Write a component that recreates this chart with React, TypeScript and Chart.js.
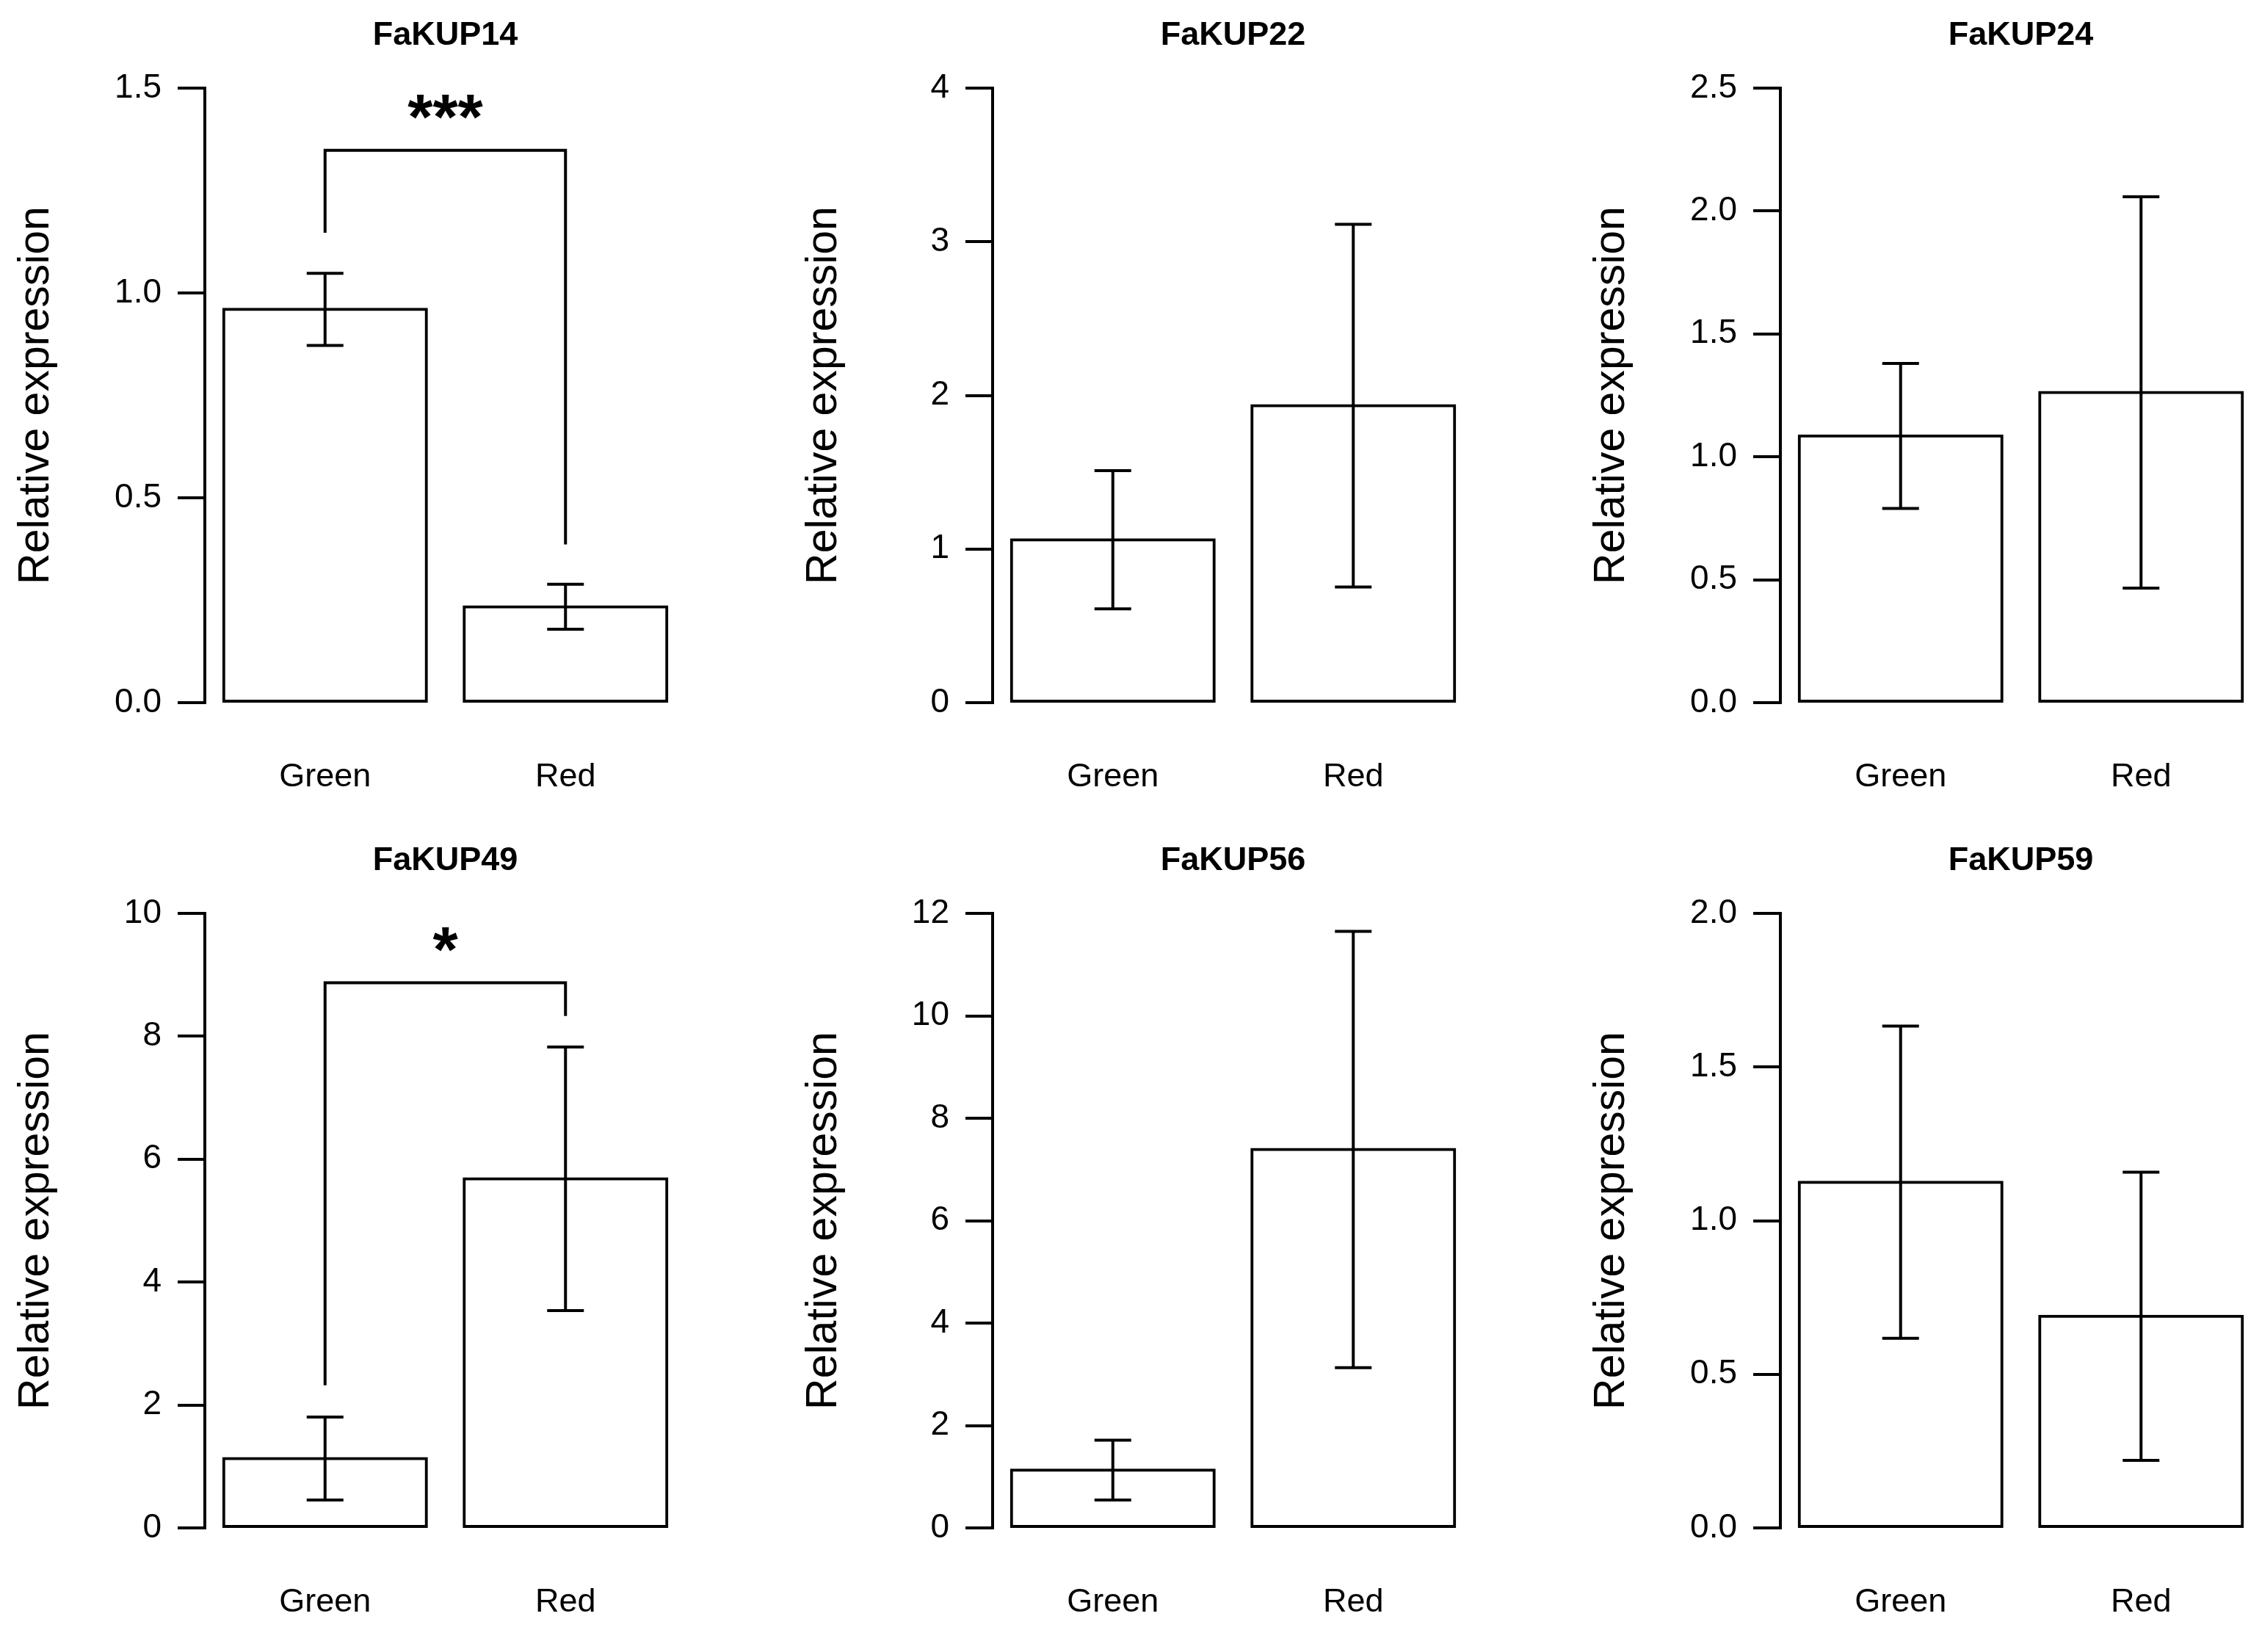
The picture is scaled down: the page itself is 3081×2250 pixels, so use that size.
import { useEffect, useRef } from 'react';
import { Chart, registerables } from 'chart.js';
import type { Plugin } from 'chart.js';

Chart.register(...registerables);

// one panel per gene
const genes = ['FaKUP14', 'FaKUP22', 'FaKUP24', 'FaKUP49', 'FaKUP56', 'FaKUP59'];
const categories = ['Green', 'Red'];
const greenMean = [0.96, 1.06, 1.085, 1.13, 1.13, 1.125];
const greenErr = [0.088, 0.45, 0.295, 0.675, 0.585, 0.508];
const redMean = [0.234, 1.933, 1.262, 5.68, 7.39, 0.689];
const redErr = [0.055, 1.18, 0.796, 2.145, 4.26, 0.469];
const yMax = [1.5, 4, 2.5, 10, 12, 2.0];
const yStep = [0.5, 1, 0.5, 2, 2, 0.5];
const yDecimals = [1, 0, 1, 0, 0, 1];

// significance brackets
const bracketGene = ['FaKUP14', 'FaKUP49'];
const bracketTop = [1.348, 8.87];
const bracketGreenEnd = [1.147, 2.32];
const bracketRedEnd = [0.386, 8.33];
const bracketLabel = ['***', '*'];

const FONT = '"Liberation Sans", Arial, Helvetica, sans-serif';
const PANEL_W = 935;
const PANEL_H = 1124;
const PITCH_X = 1073;
const AXIS_X = 279;
const CAP = 25;

function Panel({ idx }: { idx: number }) {
  const canvasRef = useRef<HTMLCanvasElement>(null);
  const chartRef = useRef<Chart | null>(null);

  useEffect(() => {
    if (!canvasRef.current) return;
    if (chartRef.current) chartRef.current.destroy();

    const b = bracketGene.indexOf(genes[idx]);
    const means = [greenMean[idx], redMean[idx]];
    const errs = [greenErr[idx], redErr[idx]];

    const overlay: Plugin<'bar'> = {
      id: 'overlay',
      afterDatasetsDraw(chart) {
        const { ctx, chartArea, scales } = chart;
        const y = scales.y;
        const meta = chart.getDatasetMeta(0);
        ctx.save();
        ctx.strokeStyle = '#000';
        ctx.fillStyle = '#000';
        ctx.lineWidth = 4;
        ctx.lineJoin = 'miter';

        // error bars
        meta.data.forEach((bar, i) => {
          const x = bar.x;
          const top = y.getPixelForValue(means[i] + errs[i]);
          const bot = y.getPixelForValue(means[i] - errs[i]);
          ctx.beginPath();
          ctx.moveTo(x, top);
          ctx.lineTo(x, bot);
          ctx.moveTo(x - CAP, top);
          ctx.lineTo(x + CAP, top);
          ctx.moveTo(x - CAP, bot);
          ctx.lineTo(x + CAP, bot);
          ctx.stroke();
        });

        // bracket + stars
        if (b >= 0) {
          const x0 = meta.data[0].x;
          const x1 = meta.data[1].x;
          const yt = y.getPixelForValue(bracketTop[b]);
          ctx.beginPath();
          ctx.moveTo(x0, y.getPixelForValue(bracketGreenEnd[b]));
          ctx.lineTo(x0, yt);
          ctx.lineTo(x1, yt);
          ctx.lineTo(x1, y.getPixelForValue(bracketRedEnd[b]));
          ctx.stroke();
          ctx.font = `bold 88px ${FONT}`;
          ctx.textAlign = 'center';
          ctx.textBaseline = 'alphabetic';
          ctx.fillText(bracketLabel[b], (x0 + x1) / 2, yt - 16);
        }

        // panel title
        ctx.font = `bold 45px ${FONT}`;
        ctx.textAlign = 'center';
        ctx.textBaseline = 'middle';
        ctx.fillText(genes[idx], (chartArea.left + chartArea.right) / 2, 49);
        ctx.restore();
      },
    };

    chartRef.current = new Chart(canvasRef.current, {
      type: 'bar',
      data: {
        labels: categories,
        datasets: [
          {
            data: means,
            backgroundColor: '#ffffff',
            borderColor: '#000000',
            borderWidth: 4,
            borderSkipped: false,
            inflateAmount: 2,
            barPercentage: 1,
            categoryPercentage: 0.843,
          },
        ],
      },
      options: {
        responsive: false,
        animation: false,
        devicePixelRatio: 1,
        layout: { padding: { top: 120, left: 0, right: 1, bottom: 0 } },
        plugins: {
          legend: { display: false },
          tooltip: { enabled: false },
          title: { display: false },
        },
        scales: {
          x: {
            type: 'category',
            grid: { display: false, drawTicks: false },
            border: { display: false },
            ticks: {
              color: '#000',
              font: { family: FONT, size: 45 },
              padding: 75,
            },
            afterFit: (scale) => {
              scale.height = PANEL_H - 957;
            },
          },
          y: {
            type: 'linear',
            min: 0,
            max: yMax[idx],
            border: { display: true, color: '#000', width: 4 },
            grid: {
              display: true,
              drawOnChartArea: false,
              drawTicks: true,
              tickLength: 37,
              color: '#000',
              lineWidth: 4,
            },
            ticks: {
              stepSize: yStep[idx],
              autoSkip: false,
              color: '#000',
              padding: 22,
              font: { family: FONT, size: 46 },
              callback: (v) => Number(v).toFixed(yDecimals[idx]),
            },
            title: {
              display: true,
              text: 'Relative expression',
              color: '#000',
              font: { family: FONT, size: 59 },
              padding: { top: 14, bottom: 0 },
            },
            afterFit: (scale) => {
              scale.width = AXIS_X;
            },
          },
        },
      },
      plugins: [overlay],
    });

    return () => {
      if (chartRef.current) {
        chartRef.current.destroy();
        chartRef.current = null;
      }
    };
  }, [idx]);

  const col = idx % 3;
  const row = Math.floor(idx / 3);
  return (
    <div
      style={{
        position: 'absolute',
        left: col * PITCH_X,
        top: row * PANEL_H,
        width: PANEL_W,
        height: PANEL_H,
      }}
    >
      <canvas ref={canvasRef} width={PANEL_W} height={PANEL_H}></canvas>
    </div>
  );
}

export default function App() {
  return (
    <div
      style={{
        position: 'absolute',
        left: 0,
        top: 0,
        width: 3081,
        height: 2250,
        background: '#fff',
        overflow: 'hidden',
      }}
    >
      {genes.map((g, i) => (
        <Panel key={g} idx={i} />
      ))}
    </div>
  );
}
